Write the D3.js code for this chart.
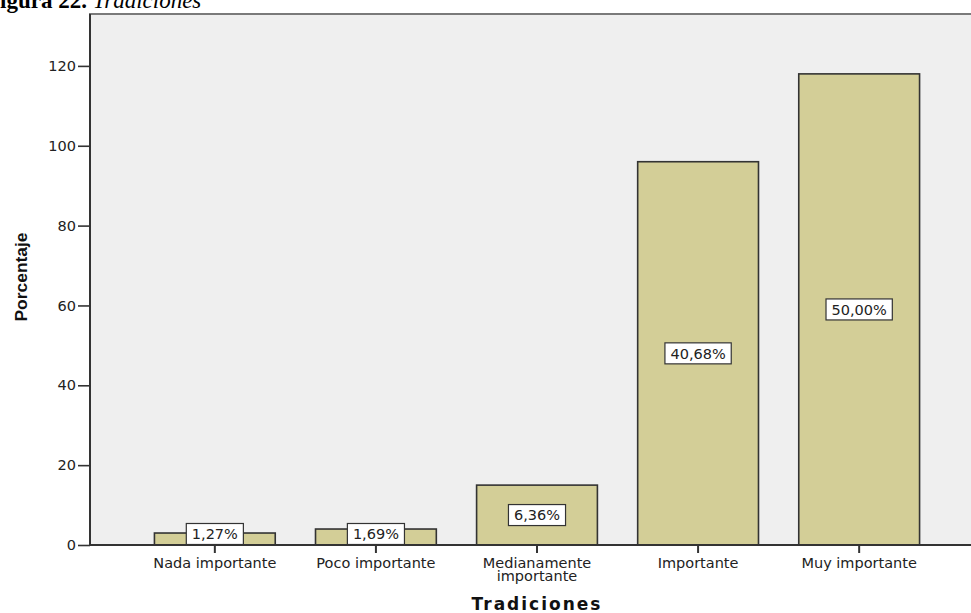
<html>

<head>
    <meta charset="utf-8">
    <script src="https://d3js.org/d3.v7.min.js"></script>
    <style>
        body { margin: 0; background: #fff; }
    </style>
</head>

<body>
    <div id="my_dataviz"></div>
</body>
<script>

    // data (counts; labels show the share of 236)
    var categories = ["Nada importante", "Poco importante", "Medianamente importante", "Importante", "Muy importante"];
    var counts = [3, 4, 15, 96, 118];
    var percentLabels = ["1,27%", "1,69%", "6,36%", "40,68%", "50,00%"];
    var yTicks = [0, 20, 40, 60, 80, 100, 120];

    var W = 971, H = 613;
    var plot = { left: 90, right: 984, top: 14, bottom: 545 };

    var svg = d3.select("#my_dataviz")
        .append("svg")
        .attr("width", W)
        .attr("height", H)
        .style("display", "block");

    // caption from the document, cut off at the top
    var cap = svg.append("text")
        .attr("x", -14)
        .attr("y", 8)
        .style("font-family", "'Liberation Serif', serif")
        .style("font-size", "23px")
        .style("fill", "#000");
    cap.append("tspan").style("font-weight", "bold").text("Figura 22. ");
    cap.append("tspan").style("font-style", "italic").text("Tradiciones");

    // scales
    var x = d3.scaleBand()
        .domain(categories)
        .range([plot.left, plot.right])
        .paddingInner(0.25)
        .paddingOuter(0.4);

    var y = d3.scaleLinear()
        .domain([0, 133])
        .range([plot.bottom, plot.top]);

    // plot background + frame
    svg.append("rect")
        .attr("x", plot.left)
        .attr("y", plot.top)
        .attr("width", plot.right - plot.left)
        .attr("height", plot.bottom - plot.top)
        .style("fill", "#efefef")
        .style("stroke", "#7a7a7a")
        .style("stroke-width", 2);

    // bars
    svg.selectAll(".bar")
        .data(counts)
        .enter()
        .append("rect")
        .attr("class", "bar")
        .attr("x", function (d, i) { return x(categories[i]) })
        .attr("y", function (d) { return y(d) })
        .attr("width", x.bandwidth())
        .attr("height", function (d) { return y(0) - y(d) })
        .style("fill", "#d3ce97")
        .style("stroke", "#333")
        .style("stroke-width", 1.6);

    // Y axis
    var yAxis = svg.append("g")
        .attr("transform", "translate(" + plot.left + ",0)")
        .call(d3.axisLeft(y).tickValues(yTicks).tickSize(12).tickPadding(2));
    yAxis.select(".domain").remove();
    yAxis.selectAll("line").style("stroke", "#333").style("stroke-width", 1.6);
    yAxis.selectAll("text")
        .style("font-family", "'DejaVu Sans', sans-serif")
        .style("font-size", "14.5px")
        .style("fill", "#222");

    svg.append("line")
        .attr("x1", plot.left).attr("x2", plot.left)
        .attr("y1", plot.top).attr("y2", plot.bottom)
        .style("stroke", "#333").style("stroke-width", 2);

    // X axis
    var xAxis = svg.append("g")
        .attr("transform", "translate(0," + plot.bottom + ")")
        .call(d3.axisBottom(x).tickSize(8).tickPadding(4));
    xAxis.select(".domain").remove();
    xAxis.selectAll("line").style("stroke", "#333").style("stroke-width", 2);
    xAxis.selectAll("text")
        .style("font-family", "'DejaVu Sans', sans-serif")
        .style("font-size", "14.5px")
        .style("fill", "#222")
        .attr("y", 23)
        .attr("dy", 0)
        .each(function (d) {
            var t = d3.select(this);
            if (this.getComputedTextLength() > x.step()) {
                var words = d.split(" ");
                t.text(null);
                words.forEach(function (w, k) {
                    t.append("tspan").attr("x", 0).attr("dy", k == 0 ? 0 : 13).text(w);
                });
            }
        });

    svg.append("line")
        .attr("x1", plot.left).attr("x2", plot.right)
        .attr("y1", plot.bottom).attr("y2", plot.bottom)
        .style("stroke", "#333").style("stroke-width", 2);

    // value labels in boxes
    var boxH = 21, padX = 5.5;
    var lab = svg.selectAll(".lab")
        .data(counts)
        .enter()
        .append("g")
        .attr("class", "lab")
        .attr("transform", function (d, i) {
            var cy = Math.min((y(d) + y(0)) / 2, y(0) - boxH / 2 - 0.5);
            return "translate(" + (x(categories[i]) + x.bandwidth() / 2) + "," + cy + ")";
        });
    lab.append("rect")
        .style("fill", "#fff")
        .style("stroke", "#333")
        .style("stroke-width", 1.2);
    var labText = lab.append("text")
        .attr("text-anchor", "middle")
        .attr("dy", "0.36em")
        .style("font-family", "'DejaVu Sans', sans-serif")
        .style("font-size", "14.5px")
        .style("fill", "#222")
        .text(function (d, i) { return percentLabels[i] });
    labText.each(function () {
        var w = this.getComputedTextLength() + padX * 2;
        d3.select(this.parentNode).select("rect")
            .attr("x", -w / 2).attr("y", -boxH / 2)
            .attr("width", w).attr("height", boxH);
    });

    // axis titles
    svg.append("text")
        .attr("x", (x(categories[0]) + x(categories[4]) + x.bandwidth()) / 2)
        .attr("y", 610)
        .attr("text-anchor", "middle")
        .style("font-family", "'DejaVu Sans', sans-serif")
        .style("font-weight", "bold")
        .style("font-size", "17px")
        .style("letter-spacing", "2px")
        .style("fill", "#111")
        .text("Tradiciones");

    svg.append("text")
        .attr("transform", "translate(27,277) rotate(-90)")
        .attr("text-anchor", "middle")
        .style("font-family", "'Liberation Sans', sans-serif")
        .style("font-weight", "bold")
        .style("font-size", "16px")
        .attr("textLength", 89)
        .attr("lengthAdjust", "spacingAndGlyphs")
        .style("fill", "#111")
        .text("Porcentaje");

</script>

</html>
